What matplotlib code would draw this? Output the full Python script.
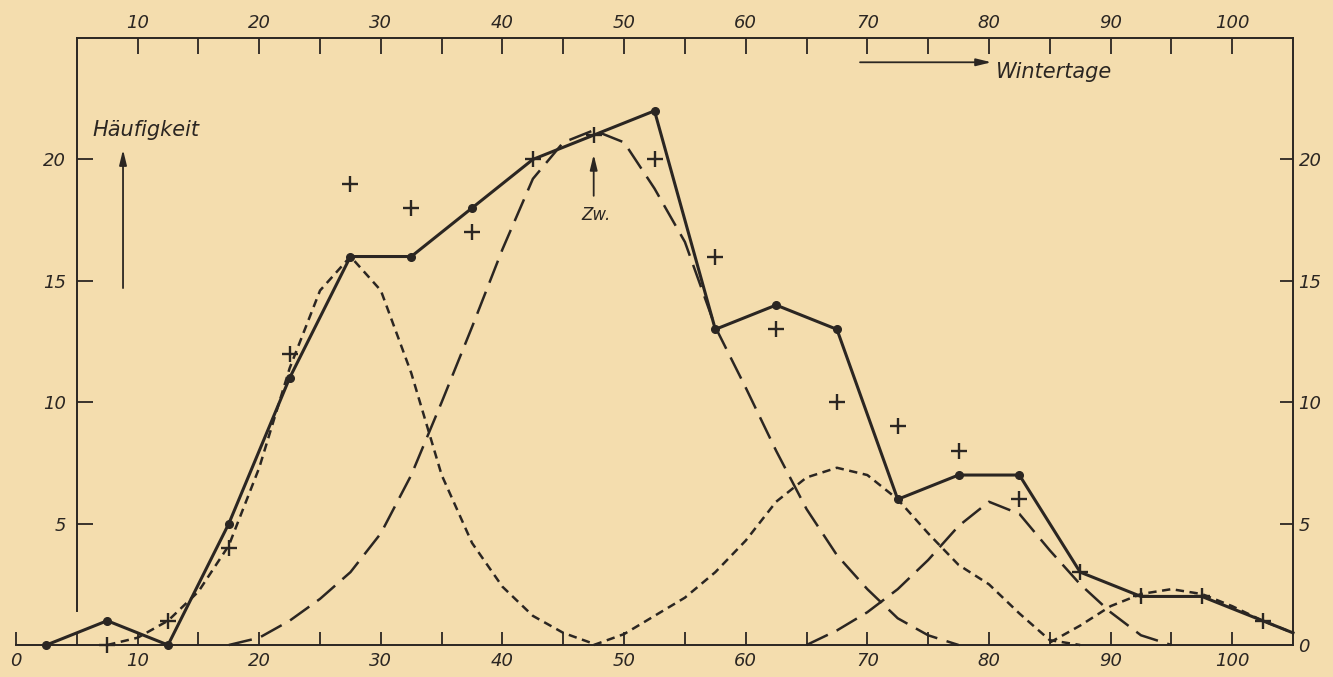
import numpy as np
import matplotlib.pyplot as plt

plt.rcParams["font.family"] = "DejaVu Sans"
plt.rcParams["font.style"] = "oblique"
plt.rcParams["lines.scale_dashes"] = False

INK = "#2b2622"
PAPER = "#f4ddae"
SHORT = [6.0, 4.0]
LONG = [17, 7]

# five-day classes (Wintertage), class centres
days = [2.5, 7.5, 12.5, 17.5, 22.5, 27.5, 32.5, 37.5, 42.5, 47.5, 52.5,
        57.5, 62.5, 67.5, 72.5, 77.5, 82.5, 87.5, 92.5, 97.5, 102.5]
observed = [0, 1, 0, 5, 11, 16, 16, 18, 20, 21, 22,
            13, 14, 13, 6, 7, 7, 3, 2, 2, 1]
smoothed = [np.nan, 0, 1, 4, 12, 19, 18, 17, 20, 21, 20,
            16, 13, 10, 9, 8, 6, 3, 2, 2, 1]
edge_day = 105
edge_count = 0.5

# component curves
comp_a_x = [7.5, 10, 12.5, 15, 17.5, 20, 22.5, 25, 27.5, 30, 32.5, 35, 37.5,
            40, 42.5, 45, 47.5]
comp_a = [0, 0.3, 1.0, 2.2, 4.1, 7.3, 11.4, 14.6, 16.0, 14.6, 11.2, 7.0, 4.2,
          2.4, 1.2, 0.5, 0.05]

comp_b_x = [17.5, 20, 22.5, 25, 27.5, 30, 32.5, 35, 37.5, 40, 42.5, 45, 47.5,
            50, 52.5, 55, 57.5, 60, 62.5, 65, 67.5, 70, 72.5, 75, 77.5]
comp_b = [0, 0.3, 1.0, 1.9, 3.0, 4.6, 7.0, 10.0, 13.1, 16.3, 19.2, 20.7, 21.2,
          20.7, 18.8, 16.6, 13.1, 10.6, 8.0, 5.6, 3.7, 2.3, 1.1, 0.4, 0]

comp_c_x = [47.5, 50, 52.5, 55, 57.5, 60, 62.5, 65, 67.5, 70, 72.5, 75, 77.5,
            80, 82.5, 85, 87.5]
comp_c = [0, 0.45, 1.2, 1.95, 3.0, 4.3, 5.9, 6.9, 7.3, 7.0, 6.0, 4.6, 3.3,
          2.5, 1.3, 0.2, 0]

comp_d_x = [65, 67.5, 70, 72.5, 75, 77.5, 80, 82.5, 85, 87.5, 90, 92.5, 95]
comp_d = [0, 0.6, 1.35, 2.3, 3.5, 4.9, 5.9, 5.4, 3.9, 2.5, 1.35, 0.4, 0]

comp_e_x = [85, 87.5, 90, 92.5, 95, 97.5, 100, 102.5, 105]
comp_e = [0.1, 0.8, 1.6, 2.1, 2.3, 2.1, 1.6, 1.0, 0.5]


def main():
    fig = plt.figure(figsize=(13.33, 6.77), dpi=100, facecolor=PAPER)
    ax = fig.add_axes([16 / 1333, 32 / 677, 1277 / 1333, 607 / 677])
    ax.set_facecolor("none")

    # component curves
    for cx, cy, ds in [(comp_a_x, comp_a, SHORT), (comp_b_x, comp_b, LONG),
                       (comp_c_x, comp_c, SHORT), (comp_d_x, comp_d, LONG),
                       (comp_e_x, comp_e, SHORT)]:
        ax.plot(cx, cy, color=INK, lw=1.8, dashes=ds, zorder=3, clip_on=False)

    # observed frequencies
    ax.plot(days + [edge_day], observed + [edge_count], color=INK, lw=2.2,
            zorder=4, clip_on=False)
    obs = np.array(observed, float)
    sm = np.array(smoothed, float)
    dot = ~np.isclose(obs, sm)
    ax.plot(np.array(days)[dot], obs[dot], "o", ms=5.5, color=INK, zorder=5,
            clip_on=False)
    ax.plot(days, smoothed, "+", ms=12, mew=1.7, color=INK, zorder=5,
            clip_on=False)

    ax.set_xlim(0, 105)
    ax.set_ylim(0, 25)
    for s in ax.spines.values():
        s.set_color(INK)
        s.set_linewidth(1.4)
    ax.spines["left"].set_position(("data", 5))
    ax.spines["left"].set_bounds(1.4, 25)
    ax.spines["top"].set_bounds(5, 105)

    ax.set_xticks(range(0, 101, 10))
    ax.set_xticks(range(5, 101, 10), minor=True)
    ax.tick_params(axis="x", which="both", direction="in", length=9.5,
                   width=1.3, colors=INK, labelsize=13, pad=5)
    ax.xaxis.get_major_ticks()[0].tick1line.set_visible(False)
    ax.set_yticks([5, 10, 15, 20])
    ax.tick_params(axis="y", direction="in", length=11.5, width=1.3,
                   colors=INK, labelsize=13, pad=8)

    top = ax.twiny()
    top.set_xlim(0, 105)
    top.set_xticks(range(10, 101, 10))
    top.set_xticks(range(15, 101, 10), minor=True)
    top.tick_params(axis="x", which="both", direction="in", length=11.5,
                    width=1.3, colors=INK, labelsize=13, pad=4)
    for s in top.spines.values():
        s.set_visible(False)

    right = ax.twinx()
    right.set_ylim(0, 25)
    right.set_yticks(range(0, 21, 5))
    right.tick_params(axis="y", direction="in", length=9.5, width=1.3,
                      colors=INK, labelsize=13, pad=4)
    right.yaxis.get_major_ticks()[0].tick2line.set_visible(False)
    for s in right.spines.values():
        s.set_visible(False)

    arrow = dict(arrowstyle="-|>,head_length=0.9,head_width=0.22", color=INK,
                 lw=1.3, shrinkA=0, shrinkB=0)
    ax.annotate("", xy=(8.8, 20.4), xytext=(8.8, 14.7), arrowprops=arrow)
    ax.text(6.3, 21.2, "Häufigkeit", fontsize=15, ha="left", va="center",
            color=INK)
    ax.annotate("", xy=(80.2, 24.0), xytext=(69.4, 24.0), arrowprops=arrow)
    ax.text(80.6, 23.6, "Wintertage", fontsize=15, ha="left", va="center",
            color=INK)
    ax.annotate("", xy=(47.5, 20.2), xytext=(47.5, 18.5), arrowprops=arrow)
    ax.text(47.7, 17.7, "Zw.", fontsize=12, ha="center", va="center",
            color=INK)

    fig.savefig("out.png", dpi=100, facecolor=PAPER)


if __name__ == "__main__":
    main()
